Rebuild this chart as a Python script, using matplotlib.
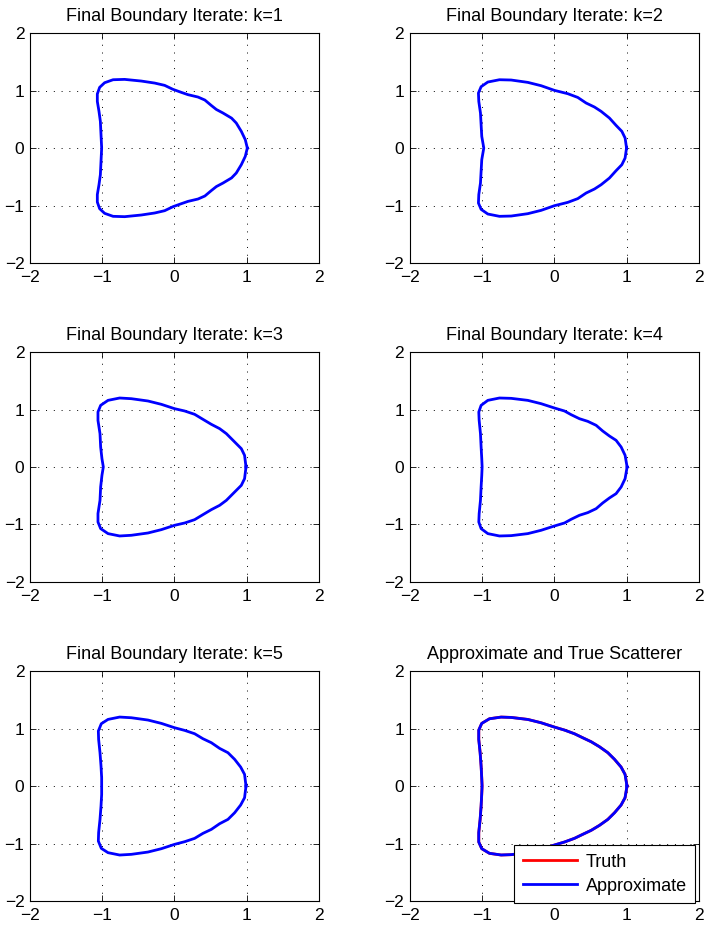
import numpy as np
import matplotlib
matplotlib.use("Agg")
import matplotlib.pyplot as plt

# upper half of each boundary, from (1,0) round to (-1,0); lower half is the mirror
k1_x = [1.008, 0.98, 0.925, 0.855, 0.79, 0.67, 0.58, 0.51, 0.42, 0.325, 0.187, 0.095, -0.02,
        -0.136, -0.274, -0.459, -0.69, -0.85, -0.967, -1.036, -1.068, -1.068, -1.045, -1.026,
        -1.017, -1.008]
k1_y = [0.0, 0.145, 0.29, 0.435, 0.52, 0.61, 0.67, 0.74, 0.835, 0.887, 0.928, 0.968, 1.02,
        1.09, 1.13, 1.165, 1.194, 1.188, 1.136, 1.055, 0.94, 0.81, 0.638, 0.464, 0.232, 0.0]

k2_x = [1.0, 0.98, 0.935, 0.855, 0.763, 0.648, 0.556, 0.44, 0.325, 0.187, 0.002, -0.182,
        -0.367, -0.597, -0.759, -0.92, -1.013, -1.05, -1.045, -1.022, -1.013, -1.004, -0.976]
k2_y = [0.0, 0.174, 0.29, 0.394, 0.522, 0.638, 0.713, 0.783, 0.88, 0.945, 1.003, 1.084,
        1.142, 1.183, 1.188, 1.148, 1.067, 0.957, 0.81, 0.609, 0.406, 0.203, 0.0]

k3_x = [0.99, 0.97, 0.925, 0.833, 0.718, 0.625, 0.51, 0.394, 0.279, 0.141, 0.002, -0.182,
        -0.367, -0.597, -0.759, -0.92, -1.022, -1.059, -1.059, -1.031, -1.022, -1.004, -0.985]
k3_y = [0.0, 0.203, 0.319, 0.435, 0.58, 0.667, 0.742, 0.829, 0.916, 0.974, 1.014, 1.09,
        1.148, 1.188, 1.2, 1.159, 1.072, 0.957, 0.81, 0.58, 0.348, 0.145, 0.0]

k4_x = [1.008, 0.98, 0.925, 0.855, 0.763, 0.67, 0.579, 0.463, 0.348, 0.233, 0.141, 0.002,
        -0.182, -0.367, -0.597, -0.759, -0.92, -1.013, -1.045, -1.04, -1.022, -1.013, -1.004,
        -0.999]
k4_y = [0.0, 0.203, 0.348, 0.464, 0.539, 0.626, 0.725, 0.794, 0.84, 0.91, 0.974, 1.026,
        1.101, 1.159, 1.194, 1.2, 1.159, 1.072, 0.957, 0.81, 0.58, 0.348, 0.145, 0.0]

k5_x = [0.99, 0.97, 0.916, 0.833, 0.74, 0.625, 0.51, 0.394, 0.279, 0.141, 0.002, -0.182,
        -0.367, -0.597, -0.759, -0.92, -1.013, -1.054, -1.05, -1.031, -1.017, -1.008, -1.008]
k5_y = [0.0, 0.203, 0.33, 0.464, 0.58, 0.655, 0.754, 0.823, 0.91, 0.968, 1.014, 1.09,
        1.148, 1.188, 1.2, 1.159, 1.084, 0.957, 0.81, 0.58, 0.348, 0.145, 0.0]

true_x = [1.008, 0.98, 0.925, 0.833, 0.74, 0.625, 0.51, 0.394, 0.279, 0.141, 0.002, -0.182,
          -0.367, -0.597, -0.736, -0.897, -1.004, -1.045, -1.045, -1.026, -1.013, -1.004, -0.999]
true_y = [0.0, 0.203, 0.33, 0.464, 0.58, 0.684, 0.771, 0.84, 0.91, 0.974, 1.026, 1.101,
          1.159, 1.194, 1.2, 1.171, 1.09, 0.974, 0.81, 0.58, 0.348, 0.145, 0.0]

# final approximation in the last panel sits right on top of the truth
approx_x = [1.006, 0.979, 0.924, 0.834, 0.741, 0.626, 0.511, 0.395, 0.28, 0.142, 0.003, -0.181,
            -0.366, -0.596, -0.737, -0.898, -1.005, -1.046, -1.046, -1.027, -1.013, -1.005, -1.0]
approx_y = [0.0, 0.203, 0.331, 0.465, 0.581, 0.683, 0.77, 0.839, 0.909, 0.973, 1.025, 1.1,
            1.158, 1.193, 1.199, 1.17, 1.089, 0.973, 0.81, 0.58, 0.348, 0.145, 0.0]

iterates = [(k1_x, k1_y), (k2_x, k2_y), (k3_x, k3_y), (k4_x, k4_y), (k5_x, k5_y)]
ticks = [-2, -1, 0, 1, 2]


def closed(xs, ys):
    # upper half then its mirror back to the start
    xs = np.asarray(xs)
    ys = np.asarray(ys)
    return (np.concatenate([xs, xs[::-1][1:]]),
            np.concatenate([ys, -ys[::-1][1:]]))


plt.rcParams['font.family'] = ['Liberation Sans', 'DejaVu Sans']
plt.rcParams['font.size'] = 12.5

fig = plt.figure(figsize=(7.09, 9.31), dpi=100)
lefts = [0.0423, 0.578]
bottoms = [0.7175, 0.3749, 0.0322]
w, h = 0.4076, 0.247

axes = []
for r in range(3):
    for c in range(2):
        axes.append(fig.add_axes([lefts[c], bottoms[r], w, h]))

for ax in axes:
    ax.set_xlim(-2, 2)
    ax.set_ylim(-2, 2)
    ax.set_xticks(ticks)
    ax.set_yticks(ticks)
    ax.tick_params(direction='in', top=True, right=True, length=4, width=0.6,
                   labelsize=12.5)
    ax.tick_params(axis='x', pad=5)
    ax.tick_params(axis='y', pad=4)
    ax.grid(True, linestyle=(0, (1, 7)), color='k', linewidth=0.7)
    for s in ax.spines.values():
        s.set_linewidth(0.8)

for i, (xs, ys) in enumerate(iterates):
    cx, cy = closed(xs, ys)
    axes[i].plot(cx, cy, color='b', linewidth=2, solid_joinstyle='round')
    axes[i].set_title('Final Boundary Iterate: k=%d' % (i + 1), fontsize=13, pad=9)

ax = axes[5]
ax.plot(*closed(true_x, true_y), color='r', linewidth=2, solid_joinstyle='round',
        label='Truth')
ax.plot(*closed(approx_x, approx_y), color='b', linewidth=2, solid_joinstyle='round',
        label='Approximate')
ax.set_title('Approximate and True Scatterer', fontsize=13, pad=9)
leg = ax.legend(loc='lower right', bbox_to_anchor=(0.987, -0.008), fontsize=13,
                handlelength=3.0, fancybox=False, framealpha=1, edgecolor='k',
                borderaxespad=0, borderpad=0.45, labelspacing=0.4, handletextpad=0.5)
leg.get_frame().set_linewidth(0.8)

fig.savefig('out.png', dpi=100)
